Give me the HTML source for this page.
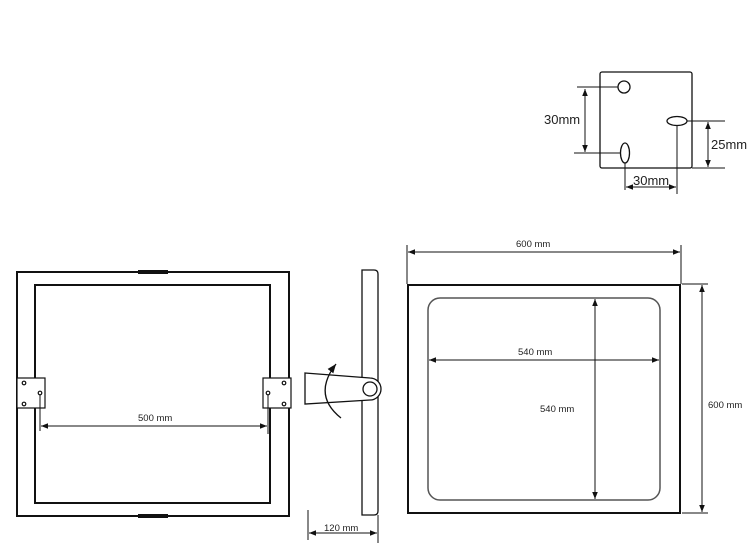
<!DOCTYPE html>
<html><head><style>body{margin:0;background:#fff}svg{display:block}text{font-family:"Liberation Sans",sans-serif;fill:#222}</style></head>
<body>
<svg width="756" height="553" viewBox="0 0 756 553" xmlns="http://www.w3.org/2000/svg">
<defs>
<marker id="a" viewBox="0 0 10 10" refX="10" refY="5" markerWidth="7" markerHeight="7" orient="auto-start-reverse"><path d="M0,1 L10,5 L0,9 z" fill="#111"/></marker>
</defs>
<g fill="none" stroke="#111">
<!-- small plate -->
<rect x="600" y="72" width="92" height="96" rx="2" stroke-width="1.3"/>
<circle cx="624" cy="87" r="6" stroke-width="1.3"/>
<ellipse cx="625" cy="153" rx="4.5" ry="10" stroke-width="1.3"/>
<ellipse cx="677" cy="121" rx="10" ry="4.5" stroke-width="1.3"/>
<line x1="577" y1="87" x2="618" y2="87" stroke-width="1"/>
<line x1="574" y1="153" x2="621" y2="153" stroke-width="1"/>
<line x1="585" y1="89" x2="585" y2="152" stroke-width="1" marker-start="url(#a)" marker-end="url(#a)"/>
<line x1="687" y1="121" x2="725" y2="121" stroke-width="1"/>
<line x1="692" y1="168" x2="725" y2="168" stroke-width="1"/>
<line x1="708" y1="122" x2="708" y2="167" stroke-width="1" marker-start="url(#a)" marker-end="url(#a)"/>
<line x1="625" y1="163" x2="625" y2="190" stroke-width="1"/>
<line x1="677" y1="125" x2="677" y2="194" stroke-width="1"/>
<line x1="626" y1="187" x2="676" y2="187" stroke-width="1" marker-start="url(#a)" marker-end="url(#a)"/>
<!-- left frame -->
<rect x="17" y="272" width="272" height="244" stroke-width="2"/>
<rect x="35" y="285" width="235" height="218" stroke-width="2"/>
<line x1="138" y1="272" x2="168" y2="272" stroke-width="4"/>
<line x1="138" y1="516" x2="168" y2="516" stroke-width="4"/>
<rect x="17" y="378" width="28" height="30" fill="#fff" stroke-width="1.2"/>
<rect x="263" y="378" width="28" height="30" fill="#fff" stroke-width="1.2"/>
<circle cx="24" cy="383" r="1.8" stroke-width="1.2"/><circle cx="24" cy="404" r="1.8" stroke-width="1.2"/><circle cx="40" cy="393" r="1.8" stroke-width="1.2"/>
<circle cx="284" cy="383" r="1.8" stroke-width="1.2"/><circle cx="284" cy="404" r="1.8" stroke-width="1.2"/><circle cx="268" cy="393" r="1.8" stroke-width="1.2"/>
<line x1="40" y1="395" x2="40" y2="431" stroke-width="1"/>
<line x1="268" y1="395" x2="268" y2="434" stroke-width="1"/>
<line x1="41" y1="426" x2="267" y2="426" stroke-width="1" marker-start="url(#a)" marker-end="url(#a)"/>
<!-- side view -->
<path d="M362,270 H374 Q378,270 378,274 V511 Q378,515 374,515 H362 Z" stroke-width="1.3"/>
<path d="M305,373 L370,378 A11,11 0 0 1 370,400 L305,404 Z" fill="#fff" stroke-width="1.3"/>
<circle cx="370" cy="389" r="7" stroke-width="1.3"/>
<path d="M341,418 Q312,395 336,364" stroke-width="1.3" marker-end="url(#a)"/>
<line x1="308" y1="510" x2="308" y2="540" stroke-width="1"/>
<line x1="378" y1="515" x2="378" y2="543" stroke-width="1"/>
<line x1="309" y1="533" x2="377" y2="533" stroke-width="1" marker-start="url(#a)" marker-end="url(#a)"/>
<!-- right view -->
<rect x="408" y="285" width="272" height="228" stroke-width="2"/>
<rect x="428" y="298" width="232" height="202" rx="12" stroke="#555" stroke-width="1.5"/>
<line x1="407" y1="245" x2="407" y2="284" stroke-width="1"/>
<line x1="681" y1="245" x2="681" y2="284" stroke-width="1"/>
<line x1="408" y1="252" x2="680" y2="252" stroke-width="1" marker-start="url(#a)" marker-end="url(#a)"/>
<line x1="429" y1="360" x2="659" y2="360" stroke-width="1" marker-start="url(#a)" marker-end="url(#a)"/>
<line x1="595" y1="299" x2="595" y2="499" stroke-width="1" marker-start="url(#a)" marker-end="url(#a)"/>
<line x1="682" y1="284" x2="708" y2="284" stroke-width="1"/>
<line x1="682" y1="513" x2="708" y2="513" stroke-width="1"/>
<line x1="702" y1="285" x2="702" y2="512" stroke-width="1" marker-start="url(#a)" marker-end="url(#a)"/>
</g>
<text x="544" y="124" font-size="13">30mm</text>
<text x="711" y="149" font-size="13">25mm</text>
<text x="633" y="185" font-size="13">30mm</text>
<text x="138" y="421" font-size="9.5">500 mm</text>
<text x="324" y="531" font-size="9.5">120 mm</text>
<text x="516" y="247" font-size="9.5">600 mm</text>
<text x="518" y="355" font-size="9.5">540 mm</text>
<text x="540" y="412" font-size="9.5">540 mm</text>
<text x="708" y="408" font-size="9.5">600 mm</text>
</svg>
</body></html>
